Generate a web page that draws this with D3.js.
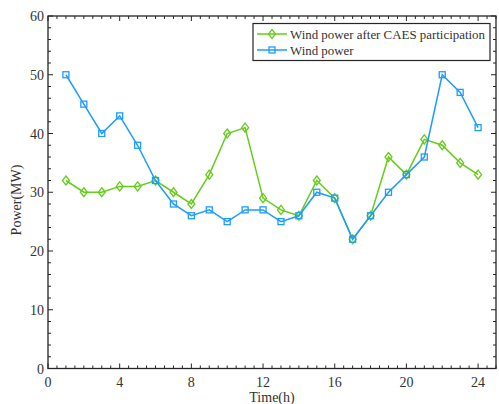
<!DOCTYPE html>
<html><head><meta charset="utf-8">
<script src="https://cdn.jsdelivr.net/npm/d3@7"></script>
<style>body{margin:0;background:#fff}svg{display:block}text{font-family:"Liberation Serif","Times New Roman",serif;fill:#333}</style>
</head><body><svg id="c" width="499" height="404"></svg>
<script>
const hours = [1,2,3,4,5,6,7,8,9,10,11,12,13,14,15,16,17,18,19,20,21,22,23,24];
const caesPower = [32,30,30,31,31,32,30,28,33,40,41,29,27,26,32,29,22,26,36,33,39,38,35,33];
const windPower = [50,45,40,43,38,32,28,26,27,25,27,27,25,26,30,29,22,26,30,33,36,50,47,41];
const xTicks = [0,4,8,12,16,20,24];
const yTicks = [0,10,20,30,40,50,60];
const seriesNames = ["Wind power after CAES participation","Wind power"];

const svg = d3.select("#c");
const L=48,R=496,T=16,B=368.5;
const x = d3.scaleLinear().domain([0,25]).range([L,R]);
const y = d3.scaleLinear().domain([0,60]).range([B,T]);
const green="#66cc1a", blue="#1e9cff", axc="#262626";

const g = svg.append("g");
const xMinor = d3.range(0,25.01,0.5), yMinor = d3.range(0,60.01,2);
xMinor.forEach(v=>{const len = xTicks.includes(v)?5:3;
  g.append("line").attr("x1",x(v)).attr("x2",x(v)).attr("y1",B).attr("y2",B-len).attr("stroke",axc);
  g.append("line").attr("x1",x(v)).attr("x2",x(v)).attr("y1",T).attr("y2",T+len).attr("stroke",axc);});
yMinor.forEach(v=>{const len = yTicks.includes(v)?5:3;
  g.append("line").attr("y1",y(v)).attr("y2",y(v)).attr("x1",L).attr("x2",L+len).attr("stroke",axc);
  g.append("line").attr("y1",y(v)).attr("y2",y(v)).attr("x1",R).attr("x2",R-len).attr("stroke",axc);});
g.append("rect").attr("x",L).attr("y",T).attr("width",R-L).attr("height",B-T).attr("fill","none").attr("stroke",axc).attr("stroke-width",1.3);

xTicks.forEach(v=>svg.append("text").attr("x",x(v)).attr("y",387).attr("text-anchor","middle").attr("font-size",14).text(v));
yTicks.forEach(v=>svg.append("text").attr("x",L-4).attr("y",y(v)+5).attr("text-anchor","end").attr("font-size",14).text(v));
svg.append("text").attr("x",(L+R)/2).attr("y",402).attr("text-anchor","middle").attr("font-size",14).text("Time(h)");
svg.append("text").attr("transform",`translate(21,200) rotate(-90)`).attr("text-anchor","middle").attr("font-size",14).text("Power(MW)");

const line = d3.line().x((d,i)=>x(hours[i])).y(d=>y(d));
function diamond(sel,cx,cy,col){sel.append("path").attr("d",`M${cx},${cy-4.5}L${cx+3.5},${cy}L${cx},${cy+4.5}L${cx-3.5},${cy}Z`).attr("fill","none").attr("stroke",col).attr("stroke-width",1.3);}
function square(sel,cx,cy,col){sel.append("rect").attr("x",cx-3).attr("y",cy-3).attr("width",6).attr("height",6).attr("fill","none").attr("stroke",col).attr("stroke-width",1.3);}

svg.append("path").attr("d",line(caesPower)).attr("fill","none").attr("stroke",green).attr("stroke-width",1.5);
caesPower.forEach((d,i)=>diamond(svg,x(hours[i]),y(d),green));
svg.append("path").attr("d",line(windPower)).attr("fill","none").attr("stroke",blue).attr("stroke-width",1.5);
windPower.forEach((d,i)=>square(svg,x(hours[i]),y(d),blue));

const lg = svg.append("g");
lg.append("rect").attr("x",253).attr("y",23.5).attr("width",237).attr("height",37).attr("fill","#fff").attr("stroke",axc).attr("stroke-width",1.2);
[[green,diamond],[blue,square]].forEach(([col,fn],i)=>{
  const cy = 34+i*16;
  lg.append("line").attr("x1",257).attr("x2",287).attr("y1",cy).attr("y2",cy).attr("stroke",col).attr("stroke-width",1.5);
  fn(lg,272,cy,col);
  lg.append("text").attr("x",290).attr("y",cy+4.5).attr("font-size",12.9).text(seriesNames[i]);
});
</script></body></html>
